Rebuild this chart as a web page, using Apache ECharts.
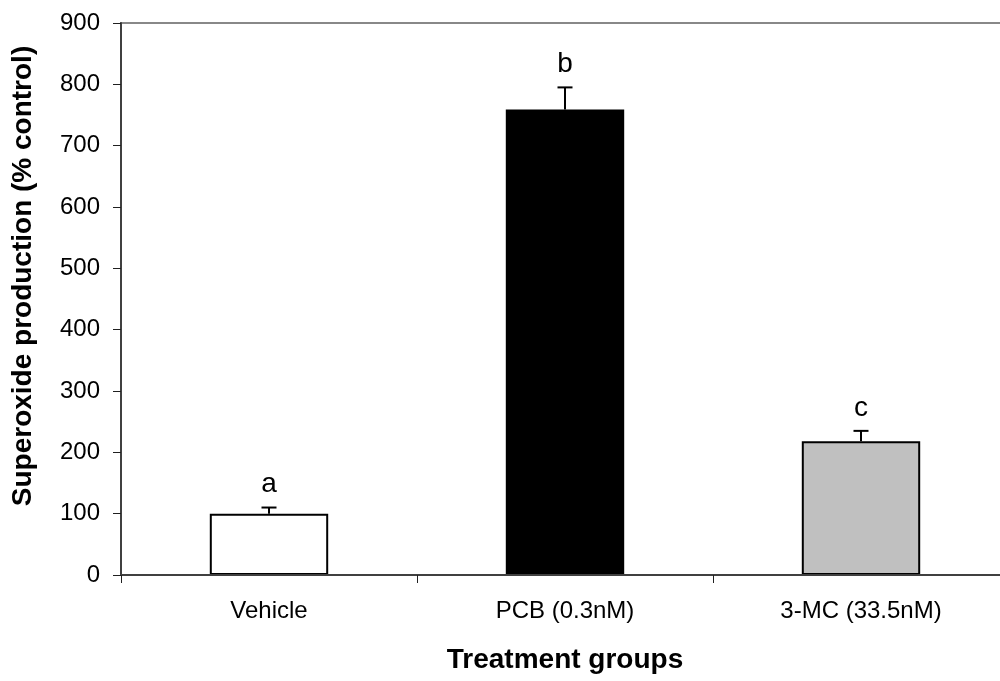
<!DOCTYPE html>
<html>
<head>
<meta charset="utf-8">
<script src="https://cdn.jsdelivr.net/npm/echarts@6/dist/echarts.min.js"></script>
<style>
  html, body { margin: 0; padding: 0; background: #fff; }
  #chart { width: 1000px; height: 681px; }
</style>
</head>
<body>
<div id="chart"></div>
<script>
// Superoxide production by treatment group (mean with upper SE)
const categories = ['Vehicle', 'PCB (0.3nM)', '3-MC (33.5nM)'];
const means = [100, 759, 218];
const errors = [10, 36, 17];
const letters = ['a', 'b', 'c'];
const barColors = ['#ffffff', '#000000', '#c0c0c0'];
const yTicks = { min: 0, max: 900, interval: 100 };

const FONT = '"Liberation Sans", Arial, sans-serif';

const chart = echarts.init(document.getElementById('chart'), null, { renderer: 'canvas' });

chart.setOption({
  animation: false,
  backgroundColor: '#ffffff',
  grid: {
    left: 121, right: -9, top: 23, bottom: 106,
    outerBoundsMode: 'none',
    containLabel: false,
    show: true, borderColor: '#888888', borderWidth: 2, backgroundColor: 'transparent'
  },
  xAxis: {
    type: 'category',
    data: categories,
    name: 'Treatment groups',
    nameLocation: 'middle',
    nameGap: 71,
    nameTextStyle: { fontFamily: FONT, fontSize: 28, fontWeight: 'bold', color: '#000' },
    axisLine: { lineStyle: { color: '#404040', width: 2 } },
    axisTick: { show: true, length: 8, lineStyle: { color: '#202020', width: 1 } },
    axisLabel: { fontFamily: FONT, fontSize: 24, color: '#000', margin: 24 },
    z: 5
  },
  yAxis: {
    type: 'value',
    min: yTicks.min, max: yTicks.max, interval: yTicks.interval,
    name: 'Superoxide production (% control)',
    nameLocation: 'middle',
    nameGap: 84,
    nameTextStyle: { fontFamily: FONT, fontSize: 28, fontWeight: 'bold', color: '#000',
                     padding: [0, 0, 0, 46] },
    axisLine: { show: true, lineStyle: { color: '#404040', width: 2 } },
    axisTick: { show: true, length: 8, lineStyle: { color: '#202020', width: 1 } },
    axisLabel: { fontFamily: FONT, fontSize: 24, color: '#000', margin: 21 },
    splitLine: { show: false },
    z: 5
  },
  series: [
    {
      type: 'bar',
      data: means.map((v, i) => ({
        value: v,
        itemStyle: { color: barColors[i], borderColor: '#000', borderWidth: 2 }
      })),
      barWidth: '40%',
      z: 2
    },
    {
      type: 'custom',
      data: means.map((v, i) => [i, v, v + errors[i]]),
      renderItem: function (params, api) {
        const i = api.value(0);
        const base = api.coord([i, api.value(1)]);
        const top = api.coord([i, api.value(2)]);
        const half = 7.5;
        return {
          type: 'group',
          children: [
            { type: 'line', shape: { x1: base[0], y1: base[1], x2: top[0], y2: top[1] },
              style: { stroke: '#000', lineWidth: 2 } },
            { type: 'line', shape: { x1: top[0] - half, y1: top[1], x2: top[0] + half, y2: top[1] },
              style: { stroke: '#000', lineWidth: 2 } },
            { type: 'text', x: top[0], y: top[1] - 23,
              style: { text: letters[params.dataIndex], fontFamily: FONT, fontSize: 28,
                       fill: '#000', align: 'center', verticalAlign: 'middle' } }
          ]
        };
      },
      z: 3
    }
  ]
});
</script>
</body>
</html>
